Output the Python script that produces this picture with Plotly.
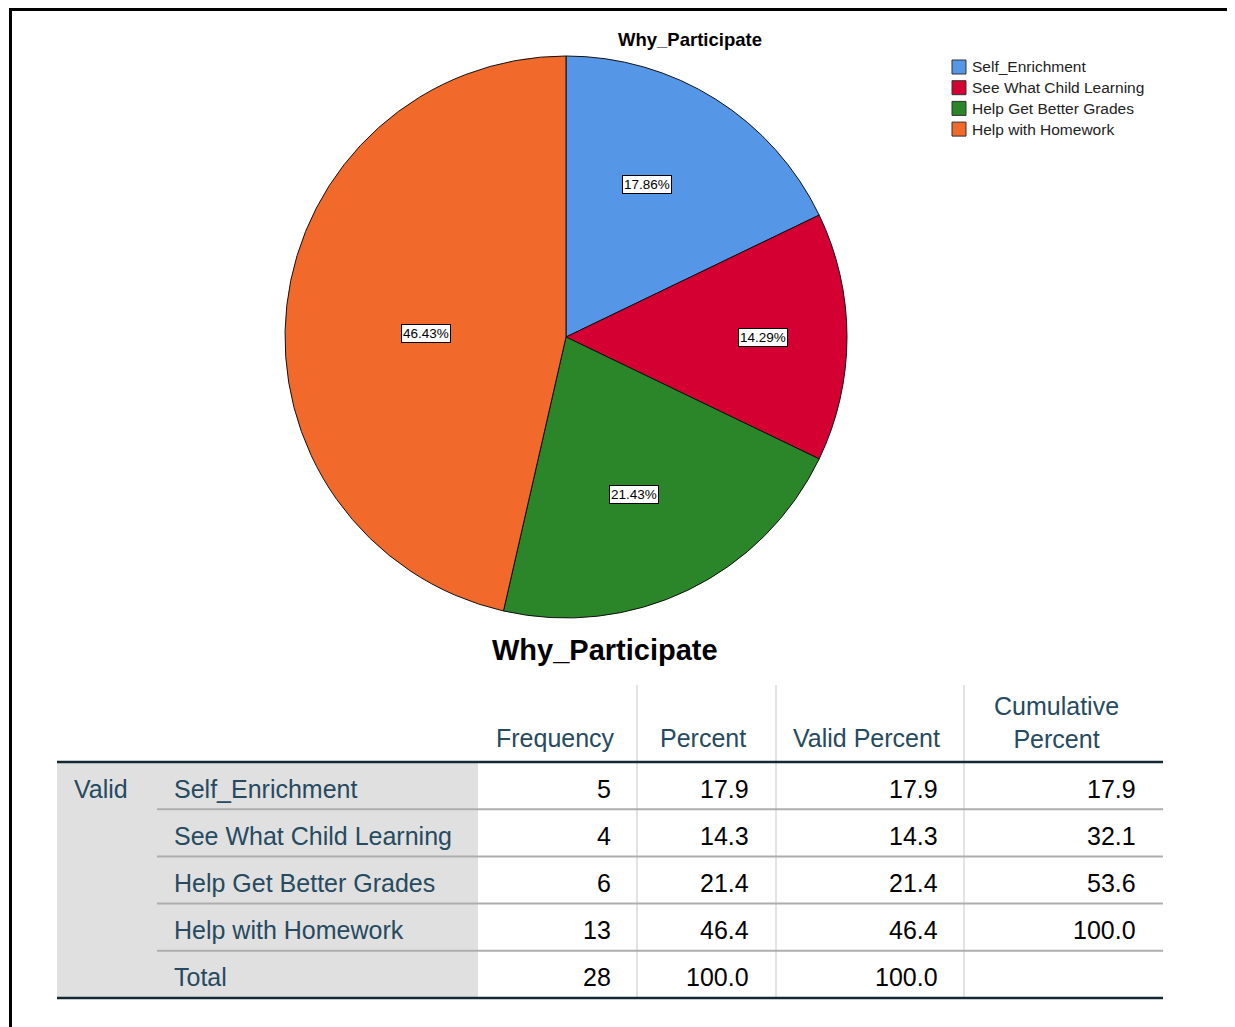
import math
import plotly.graph_objects as go

# ---------------- data ----------------
categories = ["Self_Enrichment", "See What Child Learning", "Help Get Better Grades", "Help with Homework"]
frequency = [5, 4, 6, 13]
percent = [17.9, 14.3, 21.4, 46.4]
valid_percent = [17.9, 14.3, 21.4, 46.4]
cumulative_percent = [17.9, 32.1, 53.6, 100.0]
total_label = "Total"
total_frequency = 28
total_percent = 100.0
total_valid_percent = 100.0
header_labels = ["Frequency", "Percent", "Valid Percent", "Cumulative<br>Percent"]
chart_title = "Why_Participate"
row_group_label = "Valid"

# ---------------- style / layout ----------------
W, H = 1235, 1027
OFF = 8  # page body margin
colors = ["#5596E6", "#D50032", "#2A8629", "#F2692C"]
FONT = "Liberation Sans, Arial, sans-serif"
HEAD_COLOR = "#264A60"
CELL_COLOR = "#010205"


def X(px):
    return (px - OFF) / W


def Y(py):
    return 1 - (py - OFF) / H


# pie geometry (pixels on page)
PIE_CX, PIE_CY, PIE_R = 566, 337, 281
LABEL_RADIUS = [0.613, 0.70, 0.609, 0.498]
LABEL_ANGLE_NUDGE = [-4.1, 0.0, 2.3, -4.8]  # degrees

fig = go.Figure()
fig.add_trace(go.Pie(
    values=frequency,
    labels=categories,
    sort=False,
    direction="clockwise",
    rotation=0,
    textinfo="none",
    hoverinfo="label+percent",
    showlegend=False,
    marker=dict(colors=colors, line=dict(color="#111111", width=1)),
    domain=dict(x=[X(PIE_CX - PIE_R), X(PIE_CX + PIE_R)],
                y=[Y(PIE_CY + PIE_R), Y(PIE_CY - PIE_R)]),
))

annotations = []
shapes = []

# pie slice labels (computed from data)
total = sum(frequency)
cum = 0
for i, v in enumerate(frequency):
    frac = v / total
    mid = (cum + frac / 2) * 2 * math.pi + math.radians(LABEL_ANGLE_NUDGE[i])
    cum += frac
    rr = PIE_R * LABEL_RADIUS[i]
    px = PIE_CX + rr * math.sin(mid)
    py = PIE_CY - rr * math.cos(mid)
    annotations.append(dict(
        x=X(px), y=Y(py), xref="paper", yref="paper", showarrow=False,
        text=f"{frac * 100:.2f}%", font=dict(family=FONT, size=13.5, color="#000000"),
        bgcolor="#FFFFFF", bordercolor="#000000", borderwidth=1, borderpad=1,
        xanchor="center", yanchor="middle",
    ))

# chart title
annotations.append(dict(
    x=X(690), y=Y(40), xref="paper", yref="paper", showarrow=False,
    text=f"<b>{chart_title}</b>", font=dict(family=FONT, size=18.5, color="#000000"),
    xanchor="center", yanchor="middle",
))

# custom legend
for i, cat in enumerate(categories):
    cy = 67 + i * 20.7
    shapes.append(dict(type="rect", xref="paper", yref="paper",
                       x0=X(952), x1=X(966), y0=Y(cy + 7), y1=Y(cy - 7),
                       fillcolor=colors[i], line=dict(color="#333333", width=1)))
    annotations.append(dict(
        x=X(970), y=Y(cy), xref="paper", yref="paper", showarrow=False,
        text=cat, font=dict(family=FONT, size=15.5, color="#222222"),
        xanchor="left", yanchor="middle",
    ))

# frame
shapes.append(dict(type="rect", xref="paper", yref="paper",
                   x0=X(10.5), x1=X(1260), y0=Y(1060), y1=Y(9.5),
                   line=dict(color="#000000", width=3)))

# ---------------- table ----------------
TABLE_L, TABLE_R = 57, 1163
HEAD_BOTTOM, TABLE_BOTTOM = 762, 998
ROW_H = 47.2
TEXT_DROP = 3
GRAY_R = 478
SEP_XS = [637, 776, 964]
VALUE_RIGHT = [613, 751, 940, 1138]
HEAD_CENTER = [555, 703, 866, 1056]

annotations.append(dict(
    x=X(605), y=Y(650), xref="paper", yref="paper", showarrow=False,
    text=f"<b>{chart_title}</b>", font=dict(family=FONT, size=29, color="#000000"),
    xanchor="center", yanchor="middle",
))

shapes.append(dict(type="rect", xref="paper", yref="paper",
                   x0=X(TABLE_L), x1=X(GRAY_R), y0=Y(TABLE_BOTTOM), y1=Y(HEAD_BOTTOM),
                   fillcolor="#E0E0E0", line=dict(width=0), layer="below"))
for sx in SEP_XS:
    shapes.append(dict(type="line", xref="paper", yref="paper",
                       x0=X(sx), x1=X(sx), y0=Y(TABLE_BOTTOM), y1=Y(685),
                       line=dict(color="#DADADA", width=1.5)))
for r in range(1, len(categories) + 1):
    yy = HEAD_BOTTOM + r * ROW_H
    shapes.append(dict(type="line", xref="paper", yref="paper",
                       x0=X(157), x1=X(TABLE_R), y0=Y(yy), y1=Y(yy),
                       line=dict(color="#AEAEAE", width=2)))
for yy in (HEAD_BOTTOM, TABLE_BOTTOM):
    shapes.append(dict(type="line", xref="paper", yref="paper",
                       x0=X(TABLE_L), x1=X(TABLE_R), y0=Y(yy), y1=Y(yy),
                       line=dict(color="#152935", width=2.5)))

# headers
for j, h in enumerate(header_labels):
    annotations.append(dict(
        x=X(HEAD_CENTER[j]), y=Y(738 if "<br>" not in h else 722), xref="paper", yref="paper",
        showarrow=False, text=h, align="center",
        font=dict(family=FONT, size=25, color=HEAD_COLOR),
        xanchor="center", yanchor="middle",
    ))

# row group label
annotations.append(dict(
    x=X(72), y=Y(HEAD_BOTTOM + ROW_H / 2 + TEXT_DROP), xref="paper", yref="paper", showarrow=False,
    text=row_group_label, font=dict(family=FONT, size=25, color=HEAD_COLOR),
    xanchor="left", yanchor="middle",
))

rows = []
for i, cat in enumerate(categories):
    rows.append([cat, str(frequency[i]), f"{percent[i]:.1f}", f"{valid_percent[i]:.1f}",
                 f"{cumulative_percent[i]:.1f}"])
rows.append([total_label, str(total_frequency), f"{total_percent:.1f}", f"{total_valid_percent:.1f}", ""])

for r, row in enumerate(rows):
    cy = HEAD_BOTTOM + (r + 0.5) * ROW_H + TEXT_DROP
    annotations.append(dict(
        x=X(172), y=Y(cy), xref="paper", yref="paper", showarrow=False,
        text=row[0], font=dict(family=FONT, size=25, color=HEAD_COLOR),
        xanchor="left", yanchor="middle",
    ))
    for j in range(4):
        if row[j + 1] == "":
            continue
        annotations.append(dict(
            x=X(VALUE_RIGHT[j]), y=Y(cy), xref="paper", yref="paper", showarrow=False,
            text=row[j + 1], font=dict(family=FONT, size=25, color=CELL_COLOR),
            xanchor="right", yanchor="middle",
        ))

fig.update_layout(
    width=W, height=H, autosize=False,
    margin=dict(l=0, r=0, t=0, b=0),
    paper_bgcolor="#FFFFFF", plot_bgcolor="#FFFFFF",
    showlegend=False,
    annotations=annotations,
    shapes=shapes,
)

fig.write_html("out.html")
